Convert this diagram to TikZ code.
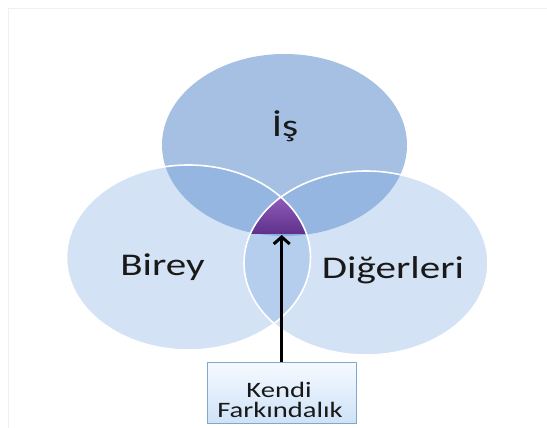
\documentclass[tikz,border=0pt]{standalone}
\usepackage{fontspec}
\setmainfont{Carlito}
\usetikzlibrary{arrows.meta}
\definecolor{topblue}{RGB}{165,192,226}
\definecolor{sideblue}{RGB}{115,162,225}
\definecolor{purpletop}{RGB}{145,95,188}
\definecolor{purplebot}{RGB}{96,50,140}
\definecolor{boxtop}{RGB}{246,250,255}
\definecolor{boxbot}{RGB}{206,226,247}
\definecolor{boxline}{RGB}{130,165,210}
\definecolor{textcol}{RGB}{25,25,25}
\tikzset{
  sidefill/.style={fill=sideblue, fill opacity=0.3},
  rim/.style={draw=white, line width=1.6pt},
  bigtext/.style={anchor=base, inner sep=0pt, text=textcol, font=\fontsize{31.6}{38}\selectfont},
  smalltext/.style={anchor=base, inner sep=0pt, text=textcol, font=\fontsize{22}{24}\selectfont},
  kbox/.style={draw=boxline, line width=0.8pt, top color=boxtop, bottom color=boxbot, minimum width=149pt, minimum height=61pt, inner sep=0pt},
  pointer/.style={line width=3pt, -{Straight Barb[length=7pt,width=16pt]}}
}
\begin{document}
\begin{tikzpicture}[x=1pt,y=-1pt]
\useasboundingbox (0,0) rectangle (547,428);
\fill[white] (0,0) rectangle (547,428);
% faint frame
\draw[gray!12, line width=0.8pt] (8,428) -- (8,8) -- (547,8);
% ellipses
\fill[topblue] (284.5,145) ellipse [x radius=122.5pt, y radius=91pt];
\path[sidefill] (188.5,257.5) ellipse [x radius=122pt, y radius=92.5pt];
\path[sidefill] (366,263) ellipse [x radius=122pt, y radius=92pt];
% central triangle (triple overlap)
\begin{scope}
  \clip (188.5,257.5) ellipse [x radius=122pt, y radius=92.5pt];
  \clip (366,263) ellipse [x radius=122pt, y radius=92pt];
  \fill[top color=purpletop, bottom color=purplebot] (240,195) rectangle (320,233);
\end{scope}
% white rims
\draw[rim] (188.5,257.5) ellipse [x radius=122pt, y radius=92.5pt];
\draw[rim] (366,263) ellipse [x radius=122pt, y radius=92pt];
% labels
\node[bigtext] (is) at (285,137) {\scalebox{1.3}[1]{İş}};
\node[bigtext] (birey) at (162.5,275) {\scalebox{1.3}[1]{Birey}};
\node[bigtext] (digerleri) at (393,278) {\scalebox{1.3}[1]{Diğerleri}};
% box
\node[kbox] (kf) at (281.5,392.5) {};
\node[smalltext] (kendi) at (279,397) {\scalebox{1.3}[1]{Kendi}};
\node[smalltext] (fark) at (280,417) {\scalebox{1.3}[1]{Farkındalık}};
\coordinate (tip) at (281.7,235);
\draw[pointer] (kf.north -| tip) -- (tip);
\end{tikzpicture}
\end{document}
